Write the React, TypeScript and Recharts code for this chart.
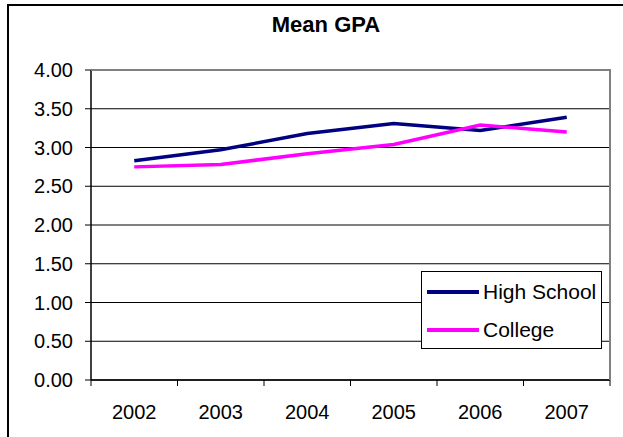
import React from "react";
import { LineChart, Line, XAxis, YAxis, CartesianGrid } from "recharts";

const years = ["2002", "2003", "2004", "2005", "2006", "2007"];
const highSchool = [2.83, 2.97, 3.18, 3.31, 3.22, 3.39];
const college = [2.75, 2.78, 2.92, 3.04, 3.29, 3.2];
const yTicks = [0, 0.5, 1, 1.5, 2, 2.5, 3, 3.5, 4];

const FONT = "'Liberation Sans', Arial, sans-serif";
const W = 623;
const H = 437;
const PLOT_LEFT = 91;
const PLOT_RIGHT = 610;
const PLOT_TOP = 70;
const PLOT_BOTTOM = 380;
const HALF_BAND = (PLOT_RIGHT - PLOT_LEFT) / years.length / 2;

const data = years.map((y, i) => ({
    year: y,
    hs: highSchool[i],
    col: college[i],
}));

const XTick = (props: any) => {
    const { x, y, payload, index } = props;
    const last = index === years.length - 1;
    return (
        <g>
            <line x1={x - HALF_BAND} y1={y} x2={x - HALF_BAND} y2={y + 6} stroke="#000" />
            {last && <line x1={x + HALF_BAND} y1={y} x2={x + HALF_BAND} y2={y + 6} stroke="#000" />}
            <text x={x} y={y + 39} textAnchor="middle" fontSize={20} fontFamily={FONT} fill="#000">
                {payload.value}
            </text>
        </g>
    );
};

export default function App() {
    return (
        <div style={{ position: "absolute", left: 0, top: 0, width: W, height: H, overflow: "hidden", background: "#fff" }}>
            <div
                style={{
                    position: "absolute",
                    left: 7,
                    top: 4,
                    width: 700,
                    height: 500,
                    border: "2px solid #000",
                    boxSizing: "border-box",
                }}
            />
            <div
                style={{
                    position: "absolute",
                    left: 8,
                    width: 636,
                    top: 12,
                    textAlign: "center",
                    fontFamily: FONT,
                    fontWeight: "bold",
                    fontSize: 22,
                }}
            >
                Mean GPA
            </div>
            <LineChart
                width={W}
                height={H}
                data={data}
                margin={{ top: PLOT_TOP, right: W - PLOT_RIGHT, left: 0, bottom: 0 }}
                style={{ position: "absolute", left: 0, top: 0 }}
            >
                <CartesianGrid horizontal vertical={false} stroke="#000" />
                <XAxis
                    dataKey="year"
                    height={H - PLOT_BOTTOM}
                    padding={{ left: HALF_BAND, right: HALF_BAND }}
                    tickLine={false}
                    tickSize={0}
                    tickMargin={0}
                    axisLine={{ stroke: "#000", strokeWidth: 1.5 }}
                    tick={<XTick />}
                    interval={0}
                />
                <YAxis
                    width={PLOT_LEFT}
                    domain={[0, 4]}
                    ticks={yTicks}
                    tickFormatter={(v: number) => v.toFixed(2)}
                    tickSize={6}
                    tickMargin={12}
                    tickLine={{ stroke: "#000" }}
                    axisLine={{ stroke: "#000", strokeWidth: 1.5 }}
                    tick={{ fill: "#000", fontSize: 20, fontFamily: FONT }}
                    interval={0}
                />
                <Line dataKey="hs" stroke="#000080" strokeWidth={3.5} dot={false} isAnimationActive={false} />
                <Line dataKey="col" stroke="#FF00FF" strokeWidth={3.5} dot={false} isAnimationActive={false} />
            </LineChart>
            {/* top and right edges of the plot frame */}
            <div
                style={{
                    position: "absolute",
                    zIndex: 2,
                    pointerEvents: "none",
                    left: PLOT_LEFT,
                    top: PLOT_TOP - 1,
                    width: PLOT_RIGHT - PLOT_LEFT + 1,
                    height: PLOT_BOTTOM - PLOT_TOP + 1,
                    borderTop: "2px solid #808080",
                    borderRight: "2px solid #808080",
                    boxSizing: "border-box",
                }}
            />
            <div
                style={{
                    position: "absolute",
                    zIndex: 3,
                    left: 421,
                    top: 271,
                    width: 181,
                    height: 78,
                    border: "1px solid #000",
                    background: "#fff",
                    boxSizing: "border-box",
                    fontFamily: FONT,
                    fontSize: 21,
                }}
            >
                {[
                    { name: "High School", color: "#000080" },
                    { name: "College", color: "#FF00FF" },
                ].map((s, i) => (
                    <div
                        key={s.name}
                        style={{ position: "absolute", left: 5, top: 8 + i * 38, height: 24, display: "flex", alignItems: "center" }}
                    >
                        <div style={{ width: 52, height: 4, background: s.color }} />
                        <span style={{ marginLeft: 4, lineHeight: "24px" }}>{s.name}</span>
                    </div>
                ))}
            </div>
        </div>
    );
}
